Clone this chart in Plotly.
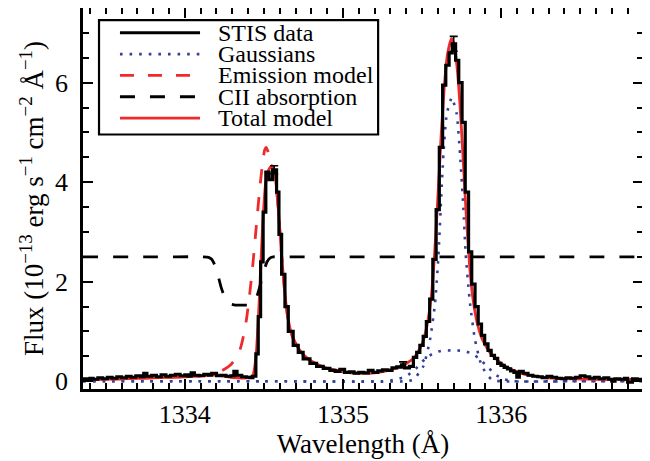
import plotly.graph_objects as go

# ---------------- data ----------------
# STIS data: bin left edges (Angstrom) and flux (1e-13 erg/s/cm2/A)
stis_wave = [1333.356, 1333.38, 1333.40, 1333.42, 1333.45, 1333.48, 1333.51, 1333.54, 1333.57,
             1333.60, 1333.63, 1333.66, 1333.69, 1333.72, 1333.74, 1333.76, 1333.79, 1333.82,
             1333.85, 1333.88, 1333.91, 1333.94, 1333.97, 1334.00, 1334.02, 1334.04, 1334.06,
             1334.09, 1334.12, 1334.15, 1334.17, 1334.20, 1334.23, 1334.26, 1334.29, 1334.31,
             1334.33, 1334.36, 1334.39, 1334.41, 1334.430, 1334.449, 1334.464, 1334.479,
             1334.495, 1334.512, 1334.533, 1334.555, 1334.580, 1334.595, 1334.612, 1334.633,
             1334.654, 1334.685, 1334.717, 1334.748, 1334.791, 1334.833, 1334.875, 1334.917,
             1334.95, 1334.98, 1335.01, 1335.04, 1335.07, 1335.10, 1335.13, 1335.16, 1335.19,
             1335.22, 1335.25, 1335.28, 1335.31, 1335.34, 1335.37, 1335.39, 1335.42,
             1335.445, 1335.466, 1335.486, 1335.507, 1335.527, 1335.548, 1335.568, 1335.589,
             1335.609, 1335.630, 1335.650, 1335.671, 1335.691, 1335.712, 1335.732, 1335.753,
             1335.773, 1335.794, 1335.814, 1335.835, 1335.855, 1335.876, 1335.896, 1335.917,
             1335.937, 1335.958, 1335.978, 1335.999, 1336.019, 1336.040, 1336.060, 1336.081,
             1336.099, 1336.115, 1336.14, 1336.17, 1336.20, 1336.23, 1336.26, 1336.29, 1336.32,
             1336.35, 1336.38, 1336.41, 1336.44, 1336.47, 1336.50, 1336.53, 1336.56, 1336.59,
             1336.62, 1336.65, 1336.68, 1336.70, 1336.72, 1336.75, 1336.78, 1336.80, 1336.83,
             1336.86, 1336.897]
stis_flux = [0.05, 0.03, 0.06, 0.04, 0.07, 0.05, 0.08, 0.06, 0.09,
             0.07, 0.10, 0.08, 0.11, 0.09, 0.16, 0.10, 0.12, 0.09,
             0.13, 0.10, 0.12, 0.14, 0.11, 0.13, 0.10, 0.17, 0.12,
             0.11, 0.14, 0.12, 0.16, 0.11, 0.12, 0.10, 0.11, 0.20,
             0.12, 0.09, 0.08, 0.07, 0.10, 0.55, 1.30, 2.40,
             3.40, 4.20, 4.05, 4.25, 3.80, 2.95, 2.15, 1.50,
             1.00, 0.72, 0.58, 0.45, 0.36, 0.30, 0.26, 0.22,
             0.20, 0.24, 0.18, 0.19, 0.16, 0.18, 0.17, 0.22, 0.18,
             0.21, 0.23, 0.22, 0.27, 0.29, 0.33, 0.27, 0.30,
             0.48, 0.58, 0.72, 0.90, 1.20, 1.65, 2.45, 3.45,
             4.70, 5.95, 6.35, 6.60, 6.78, 6.45, 6.00, 5.20,
             3.80, 2.60, 1.95, 1.50, 1.15, 0.92, 0.75, 0.62,
             0.52, 0.46, 0.36, 0.32, 0.28, 0.25, 0.21, 0.18,
             0.08, 0.20, 0.16, 0.12, 0.10, 0.09, 0.07, 0.10, 0.08,
             0.06, 0.05, 0.07, 0.06, 0.08, 0.11, 0.09, 0.06, 0.08,
             0.05, 0.07, 0.04, 0.00, 0.05, 0.04, 0.06, -0.02, 0.05,
             0.04, 0.05]

# error bars shown on a few STIS bins
err_wave = [1335.70, 1335.38, 1334.565]
err_flux = [6.78, 0.33, 4.25]
err_size = [0.15, 0.06, 0.08]

# Gaussian components (narrow and broad) of the 1335.7 line
gauss_n_wave = [1333.356, 1334.5, 1335.40, 1335.445, 1335.508, 1335.550, 1335.582, 1335.603, 1335.618,
                1335.635, 1335.656, 1335.688, 1335.719, 1335.740, 1335.761, 1335.776, 1335.803,
                1335.835, 1335.878, 1335.941, 1336.0, 1336.5, 1336.897]
gauss_n_flux = [0.0, 0.0, 0.0, 0.03, 0.30, 0.83, 1.57, 2.50, 3.50,
                4.57, 5.37, 5.70, 5.37, 4.57, 3.50, 2.55, 1.57,
                0.83, 0.30, 0.03, 0.0, 0.0, 0.0]
gauss_b_wave = [1333.356, 1334.5, 1335.25, 1335.33, 1335.40, 1335.46, 1335.52, 1335.57, 1335.62,
                1335.69, 1335.76, 1335.82, 1335.87, 1335.92, 1335.97, 1336.02, 1336.08, 1336.5,
                1336.897]
gauss_b_flux = [0.0, 0.0, 0.0, 0.03, 0.10, 0.25, 0.45, 0.56, 0.61,
                0.62, 0.61, 0.55, 0.43, 0.27, 0.12, 0.04, 0.0, 0.0,
                0.0]

# Total model
total_wave = [1333.356, 1333.6, 1333.8, 1334.0, 1334.1, 1334.17, 1334.22, 1334.27, 1334.33, 1334.40,
              1334.43, 1334.45, 1334.47, 1334.49, 1334.51, 1334.53, 1334.55, 1334.57, 1334.59,
              1334.61, 1334.63, 1334.65, 1334.68, 1334.72, 1334.77, 1334.83, 1334.90, 1335.0,
              1335.1, 1335.2, 1335.3, 1335.38, 1335.45, 1335.50, 1335.53, 1335.56, 1335.58,
              1335.60, 1335.62, 1335.64, 1335.66, 1335.685, 1335.70, 1335.72, 1335.74, 1335.76,
              1335.78, 1335.80, 1335.82, 1335.85, 1335.88, 1335.92, 1335.96, 1336.0, 1336.05,
              1336.1, 1336.15, 1336.2, 1336.3, 1336.45, 1336.6, 1336.897]
total_flux = [0.03, 0.05, 0.07, 0.09, 0.11, 0.13, 0.12, 0.09, 0.07, 0.07,
              0.12, 0.50, 1.60, 3.00, 3.95, 4.25, 4.33, 4.15, 3.50,
              2.60, 1.85, 1.30, 0.90, 0.65, 0.47, 0.35, 0.26, 0.19,
              0.16, 0.17, 0.23, 0.32, 0.47, 0.75, 1.10, 1.75, 2.60,
              3.70, 4.90, 5.90, 6.55, 6.88, 6.80, 6.35, 5.55, 4.45,
              3.30, 2.35, 1.70, 1.15, 0.85, 0.62, 0.47, 0.36, 0.26,
              0.19, 0.14, 0.11, 0.07, 0.05, 0.04, 0.03]

# Emission model (before CII absorption)
emis_wave = [1333.356, 1333.6, 1333.8, 1334.0, 1334.1, 1334.15, 1334.20, 1334.25, 1334.29,
             1334.32, 1334.35, 1334.37, 1334.39, 1334.41, 1334.43, 1334.45, 1334.47, 1334.49,
             1334.505, 1334.515, 1334.525, 1334.54, 1334.555, 1334.57, 1334.59, 1334.61,
             1334.63, 1334.65, 1334.68, 1334.72, 1334.77, 1334.83, 1334.90, 1335.0]
emis_flux = [0.03, 0.05, 0.07, 0.09, 0.11, 0.13, 0.17, 0.24, 0.33,
             0.45, 0.65, 0.90, 1.25, 1.75, 2.35, 3.05, 3.75, 4.35,
             4.65, 4.70, 4.62, 4.45, 4.30, 4.15, 3.50, 2.60,
             1.85, 1.30, 0.90, 0.65, 0.47, 0.35, 0.26, 0.19]

# CII absorption profile (scaled)
abs_wave = [1333.356, 1333.8, 1334.10, 1334.15, 1334.17, 1334.19, 1334.21, 1334.23, 1334.25,
            1334.27, 1334.29, 1334.32, 1334.36, 1334.40, 1334.42, 1334.44, 1334.46, 1334.48,
            1334.50, 1334.52, 1334.54, 1334.56, 1334.60, 1335.0, 1335.5, 1336.0, 1336.897]
abs_flux = [2.5, 2.5, 2.5, 2.49, 2.45, 2.33, 2.12, 1.88, 1.70,
            1.60, 1.55, 1.53, 1.53, 1.53, 1.55, 1.62, 1.75, 1.97,
            2.22, 2.40, 2.48, 2.5, 2.5, 2.5, 2.5, 2.5, 2.5]

legend_labels = ["STIS data", "Gaussians", "Emission model", "CII absorption", "Total model"]

# ---------------- styles ----------------
RED = "#ee2a2a"
BLUE = "#34409c"
FONT = "Liberation Serif, 'Times New Roman', Times, 'DejaVu Serif', serif"

fig = go.Figure()
dot_style = dict(color=BLUE, width=2.6, dash="2.6px,7px")
fig.add_trace(go.Scatter(x=gauss_b_wave, y=gauss_b_flux, mode="lines", name="Gaussians",
                         line=dict(**dot_style, shape="spline", smoothing=0.5), showlegend=False))
fig.add_trace(go.Scatter(x=gauss_n_wave, y=gauss_n_flux, mode="lines", name="Gaussians",
                         line=dict(**dot_style, shape="spline", smoothing=0.5), showlegend=False))
fig.add_trace(go.Scatter(x=total_wave, y=total_flux, mode="lines", name="Total model",
                         line=dict(color=RED, width=2.8, shape="spline", smoothing=0.5),
                         showlegend=False))
fig.add_trace(go.Scatter(x=emis_wave, y=emis_flux, mode="lines", name="Emission model",
                         line=dict(color=RED, width=2.8, dash="14px,14px", shape="spline",
                                   smoothing=0.5), showlegend=False))
fig.add_trace(go.Scatter(x=abs_wave, y=abs_flux, mode="lines", name="CII absorption",
                         line=dict(color="black", width=2.8, dash="15px,15px", shape="spline",
                                   smoothing=0.4), showlegend=False))
fig.add_trace(go.Scatter(x=stis_wave, y=stis_flux, mode="lines", name="STIS data",
                         line=dict(color="black", width=3.2, shape="hv"), showlegend=False))
fig.add_trace(go.Scatter(x=err_wave, y=err_flux, mode="markers", name="STIS errors",
                         marker=dict(size=1, color="black"),
                         error_y=dict(type="data", array=err_size, color="black",
                                      thickness=1.6, width=4),
                         showlegend=False))
# invisible trace to carry the mirrored (top/right) axes
fig.add_trace(go.Scatter(x=[stis_wave[0]], y=[stis_flux[0]], xaxis="x2", yaxis="y2",
                         mode="markers", marker=dict(opacity=0), hoverinfo="skip",
                         showlegend=False))

# ---------------- manual legend (IDL style) ----------------
leg_styles = [dict(color="black", width=3),
              dict(color=BLUE, width=2.6, dash="2.6px,7px"),
              dict(color=RED, width=2.8, dash="14px,14px"),
              dict(color="black", width=2.8, dash="15px,15px"),
              dict(color=RED, width=2.8)]
leg_rows = [0.935, 0.879, 0.823, 0.767, 0.711]
shapes = [dict(type="rect", xref="paper", yref="paper", x0=0.0286, x1=0.527, y0=0.668, y1=0.968,
               line=dict(color="black", width=2.2), fillcolor="white", layer="above")]
annotations = []
for lab, st, yy in zip(legend_labels, leg_styles, leg_rows):
    shapes.append(dict(type="line", xref="paper", yref="paper", x0=0.066, x1=0.209, y0=yy, y1=yy,
                       line=st, layer="above"))
    annotations.append(dict(xref="paper", yref="paper", x=0.2375, y=yy, text=lab,
                            showarrow=False, xanchor="left", yanchor="middle",
                            font=dict(family=FONT, size=24, color="black")))

tick_common = dict(ticks="inside", ticklen=10, tickwidth=1.8, tickcolor="black",
                   showgrid=False, zeroline=False, automargin=False)
xr = [1333.356, 1336.897]
yr = [-0.156, 7.5]
xminor = dict(dtick=0.1, tick0=1334, ticklen=6, ticks="inside", tickwidth=1.6, tickcolor="black")
yminor = dict(dtick=0.5, tick0=0, ticklen=6, ticks="inside", tickwidth=1.6, tickcolor="black")

# the page body adds an 8 px offset, so the figure is 8 px smaller and margins shifted
fig.update_layout(
    width=642, height=453,
    margin=dict(l=75, r=7, t=0, b=72, autoexpand=False),
    plot_bgcolor="white", paper_bgcolor="white",
    font=dict(family=FONT, color="black"),
    shapes=shapes, annotations=annotations,
    xaxis=dict(range=xr, tick0=1334, dtick=1, minor=xminor,
               showline=True, linecolor="black", linewidth=2.5, mirror="ticks",
               tickfont=dict(family=FONT, size=26, color="black"),
               title=dict(text="Wavelength (Å)", font=dict(family=FONT, size=27, color="black"),
                          standoff=0),
               **tick_common),
    yaxis=dict(range=yr, tick0=0, dtick=2, minor=yminor,
               showline=True, linecolor="black", linewidth=2.5, mirror="ticks",
               tickfont=dict(family=FONT, size=26, color="black"),
               title=dict(text="Flux (10<sup>−13</sup> erg s<sup>−1</sup> cm<sup>−2</sup> Å<sup>−1</sup>)",
                          font=dict(family=FONT, size=27, color="black"), standoff=4),
               ticklabelstandoff=7,
               **tick_common),
    xaxis2=dict(range=xr, overlaying="x", side="top", anchor="y", tick0=1334, dtick=1,
                minor=xminor, showticklabels=False, showline=False, **tick_common),
    yaxis2=dict(range=yr, overlaying="y", side="right", anchor="x", tick0=0, dtick=2,
                minor=yminor, showticklabels=False, showline=False, **tick_common),
    showlegend=False,
)

fig.write_html("out.html")
